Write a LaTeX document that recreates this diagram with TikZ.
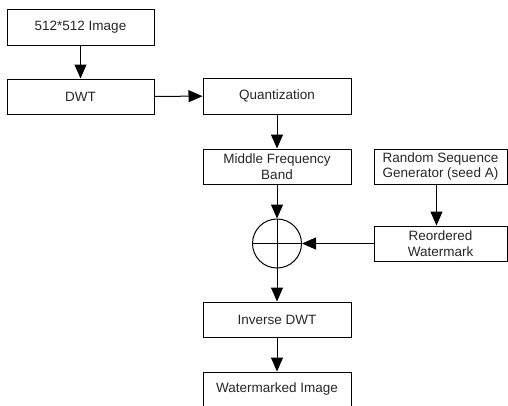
\documentclass[tikz,border=0pt]{standalone}
\usepackage{fontspec}
\setmainfont{Liberation Sans}
\usetikzlibrary{arrows.meta,calc}
\begin{document}
\begin{tikzpicture}[x=1pt,y=-1pt,
 box/.style={draw,line width=1pt,minimum height=35pt,inner sep=0pt,align=center,text=black!85,font=\fontsize{13.5}{15.5}\selectfont},
 arr/.style={line width=1pt,-{Triangle[length=14pt,width=12pt]}}]
\path[clip] (0,0) rectangle (508,405);
\node[box,minimum width=147pt,minimum height=36pt] (img) at (80.5,27) {512*512 Image};
\node[box,minimum width=147pt] (dwt) at (80.5,96.5) {DWT};
\node[box,minimum width=148pt,minimum height=36pt] (quant) at (277,96) {Quantization};
\node[box,minimum width=148pt] (mfb) at (277,166.5) {Middle Frequency\\Band};
\node[box,minimum width=133pt] (rsg) at (440.5,166.5) {Random Sequence\\Generator (seed A)};
\node[box,minimum width=133pt] (rw) at (440.5,243.5) {Reordered\\Watermark};
\node[draw,line width=1pt,circle,minimum size=49pt,inner sep=0pt] (sum) at (277,243.5) {};
\draw[line width=1pt] (sum.north) -- (sum.south);
\draw[line width=1pt] (sum.west) -- (sum.east);
\node[box,minimum width=148pt] (idwt) at (277,319.5) {Inverse DWT};
\node[box,minimum width=148pt] (wi) at (277,389.5) {Watermarked Image};
\draw[arr] (img) -- (dwt);
\draw[arr] (dwt) -- (quant);
\draw[arr] (quant) -- (mfb);
\draw[arr] (mfb) -- (sum);
\draw[arr] ([xshift=-4pt]rsg.south) -- ([xshift=-4pt]rw.north);
\draw[arr] (rw) -- (sum);
\draw[arr] (sum) -- (idwt);
\draw[arr] (idwt) -- (wi);
\end{tikzpicture}
\end{document}
